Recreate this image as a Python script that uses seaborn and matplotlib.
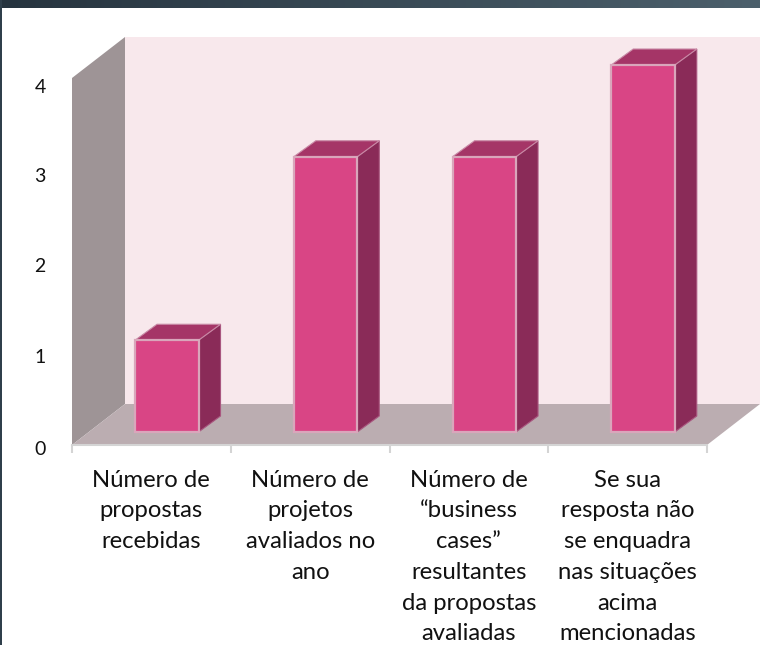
import numpy as np
import pandas as pd
import matplotlib
matplotlib.use('Agg')
import matplotlib.pyplot as plt
from matplotlib.patches import Polygon
from matplotlib.transforms import ScaledTranslation
import seaborn as sns

categories = [
    'Número de\npropostas\nrecebidas',
    'Número de\nprojetos\navaliados no\nano',
    'Número de\n“business\ncases”\nresultantes\nda propostas\navaliadas',
    'Se sua\nresposta não\nse enquadra\nnas situações\nacima\nmencionadas',
]
values = [1, 3, 3, 4]
y_ticks = [0, 1, 2, 3, 4]

sns.set_style('white')
plt.rcParams['font.family'] = ['Lato', 'DejaVu Sans']

W, H = 760, 645
fig = plt.figure(figsize=(W / 100, H / 100), dpi=100, facecolor='white')

# axes box = the front edge of the floor and wall, in pixels of the picture
left, right, top, bottom = 72, 707, 78, 445
ax = fig.add_axes([left / W, 1 - bottom / H, (right - left) / W, (bottom - top) / H])

df = pd.DataFrame({'cat': categories, 'val': values})
lift = 13 / 91.75  # bars stand a bit behind the front of the floor
sns.barplot(data=df, x='cat', y='val', ax=ax, color='#d94585', saturation=1, width=0.4,
            bottom=lift, edgecolor='#d9a6bb', linewidth=1.6, zorder=5, clip_on=False)

x_min = -0.597
ax.set_xlim(x_min, x_min + 4)
ax.set_ylim(0, 4)
ux, uy = 158.75, 91.75  # pixels per data unit


def box(points, color, z):
    ax.add_patch(Polygon(points, closed=True, facecolor=color, edgecolor='none',
                         clip_on=False, zorder=z))


# walls and floor
wx, wy = 53 / ux, 41 / uy
x_end = x_min + 4
x_far = x_end + wx
box([(x_min + wx, wy), (x_far, wy), (x_far, 4 + wy), (x_min + wx, 4 + wy)], '#f8e8ec', 1)
box([(x_min, 0), (x_min + wx, wy), (x_min + wx, 4 + wy), (x_min, 4)], '#9e9496', 2)
box([(x_min, 0), (x_min + wx, wy), (x_far, wy), (x_end, 0)], '#bbadb1', 2)

# side and top faces of each bar, built from the bar itself
dx, dy = 22 / ux, 16 / uy
for bar in ax.patches[:4]:
    x0, x1 = bar.get_x(), bar.get_x() + bar.get_width()
    y0, y1 = bar.get_y(), bar.get_y() + bar.get_height()
    ax.add_patch(Polygon([(x1, y0), (x1 + dx, y0 + dy), (x1 + dx, y1 + dy), (x1, y1)], closed=True,
                         facecolor='#8a2b58', edgecolor='#a9567f', linewidth=0.8, zorder=4, clip_on=False))
    ax.add_patch(Polygon([(x0, y1), (x0 + dx, y1 + dy), (x1 + dx, y1 + dy), (x1, y1)], closed=True,
                         facecolor='#a53567', edgecolor='#c98aa6', linewidth=0.8, zorder=4, clip_on=False))

for s in ['top', 'right', 'left']:
    ax.spines[s].set_visible(False)
ax.spines['bottom'].set_color('#d4d4d4')
ax.spines['bottom'].set_linewidth(1.5)
ax.spines['bottom'].set_zorder(6)
ax.patch.set_visible(False)

ax.set_xlabel('')
ax.set_ylabel('')
ax.set_xticks(x_min + np.arange(5))
ax.set_xticklabels([])
ax.tick_params(axis='x', bottom=True, length=6, width=1.5, color='#d4d4d4')
ax.set_yticks(y_ticks)
ax.tick_params(axis='y', left=False, pad=15.5, labelsize=14, labelcolor='#111111')
# the original font has old-style digits, 3 and 4 hang below the line
for lab, drop in zip(ax.get_yticklabels(), [3, 3, 3, 5, 8]):
    lab.set_transform(lab.get_transform() + ScaledTranslation(0, -drop / 100, fig.dpi_scale_trans))

# category labels, wrapped as in the picture
for i, name in enumerate(categories):
    ax.text(x_min + i + 0.5, -0.27, name, ha='center', va='top', fontsize=17.2,
            linespacing=1.57, color='#111111', clip_on=False)

# dark slide frame at the top and left
top_bar = fig.add_axes([0, 1 - 8 / H, 1, 8 / H])
top_bar.imshow(np.linspace(0, 1, 256).reshape(1, -1), aspect='auto',
               cmap=matplotlib.colors.LinearSegmentedColormap.from_list('f', ['#26343f', '#4c606c']))
top_bar.axis('off')
left_bar = fig.add_axes([0, 0, 1.5 / W, 1])
left_bar.set_facecolor('#2f3f4b')
left_bar.set_xticks([])
left_bar.set_yticks([])
for s in left_bar.spines.values():
    s.set_visible(False)

fig.savefig('out.png', dpi=100)
